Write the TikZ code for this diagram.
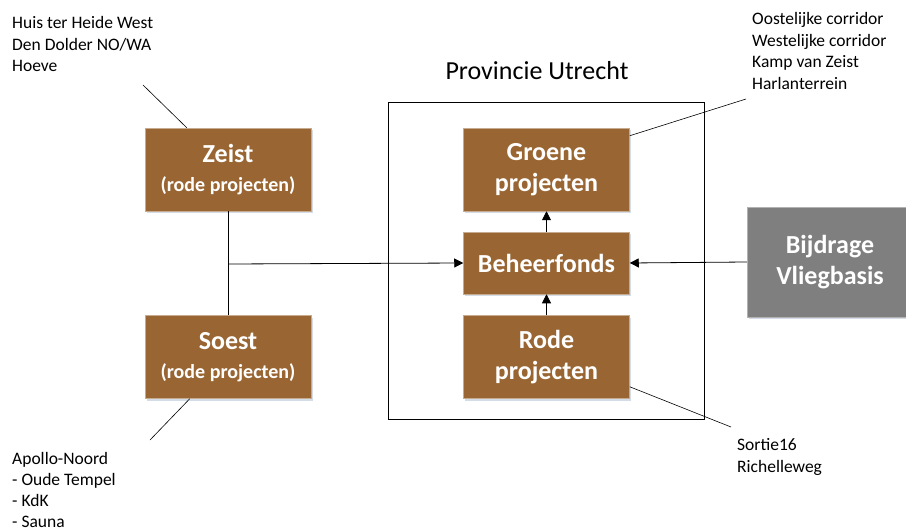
\documentclass[tikz,border=0pt]{standalone}
\usepackage{fontspec}
\setmainfont{Carlito}
\usetikzlibrary{arrows.meta,shadows,calc}
\definecolor{brownbox}{RGB}{153,102,51}
\definecolor{graybox}{RGB}{127,127,127}
\definecolor{shadowc}{RGB}{170,185,210}
\begin{document}
\begin{tikzpicture}[x=1pt,y=-1pt,
  box/.style={fill=brownbox, draw=brownbox!55!white, line width=0.5pt, text=white,
    minimum width=166pt, minimum height=83pt, align=center, inner sep=0pt,
    font=\bfseries\fontsize{26}{31}\selectfont,
    drop shadow={shadow xshift=1.5pt, shadow yshift=-2pt, fill=shadowc, opacity=0.5}},
  gbox/.style={box, fill=graybox, draw=graybox!60!white, minimum height=110pt},
  lbl/.style={align=left, inner sep=0pt, anchor=north west, font=\fontsize{17.5}{21.7}\selectfont},
  con/.style={line width=0.8pt},
  arr/.style={line width=0.8pt, -{Triangle[length=9pt,width=9pt]}},
  lead/.style={line width=0.6pt}]
\useasboundingbox (0,0) rectangle (906,532);
\clip (0,0) rectangle (906,532);
% province frame
\node[draw, line width=0.8pt, minimum width=316pt, minimum height=317pt, inner sep=0pt] (prov) at (546,260.5) {};
\node[font=\fontsize{26}{31}\selectfont, anchor=base, inner sep=0pt] (provt) at (537,80) {Provincie Utrecht};
% boxes
\node[box] (zeist) at (228,169.5) {Zeist\\[-2pt]{\fontsize{20}{31}\selectfont (rode projecten)}};
\node[box] (soest) at (228,357) {Soest\\[-2pt]{\fontsize{20}{31}\selectfont (rode projecten)}};
\node[box] (groene) at (546.5,169.5) {Groene\\projecten};
\node[box, minimum height=62pt] (beheer) at (546.5,263) {Beheerfonds};
\node[box] (rode) at (546.5,357) {Rode\\projecten};
\node[gbox] (bijdrage) at (830,262) {Bijdrage\\Vliegbasis};
% labels
\node[lbl] (tl) at (12,16) {Huis ter Heide West\\Den Dolder NO/WA\\Hoeve};
\node[lbl, font=\fontsize{17.5}{21}\selectfont] (bl) at (12,452) {Apollo-Noord\\- Oude Tempel\\- KdK\\- Sauna};
\node[lbl] (tr) at (752,12) {Oostelijke corridor\\Westelijke corridor\\Kamp van Zeist\\Harlanterrein};
\node[lbl] (br) at (737,438) {Sortie16\\Richelleweg};
% connectors
\coordinate (j) at (228,264);
\draw[con] (zeist.south) -- (soest.north);
\draw[arr] (j) -- (beheer.west);
\draw[arr] (bijdrage.west) -- (beheer.east);
\draw[arr] (beheer.north) -- (groene.south);
\draw[arr] (rode.north) -- (beheer.south);
% leader lines
\coordinate (tlend) at (143,85);
\coordinate (blend) at (150,440);
\coordinate (trend) at (746,99);
\coordinate (brend) at (731,427);
\draw[lead] (tlend) -- ($(zeist.north west)+(42,0)$);
\draw[lead] (blend) -- ($(soest.south west)+(45,0)$);
\draw[lead] (trend) -- ($(groene.north east)+(0,8)$);
\draw[lead] (brend) -- ($(rode.south east)+(0,-12)$);
\end{tikzpicture}
\end{document}
